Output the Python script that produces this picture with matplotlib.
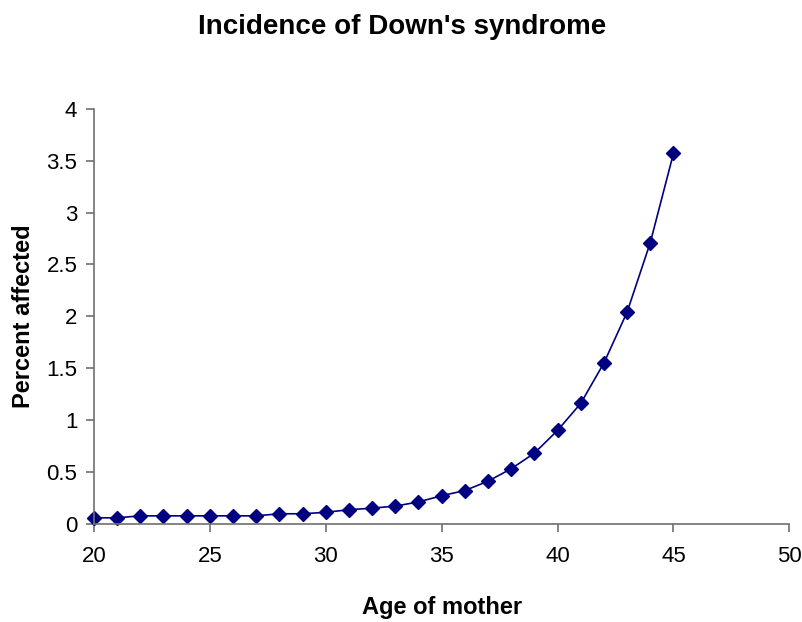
import matplotlib
matplotlib.use('Agg')
import matplotlib.pyplot as plt

# Data
ages = list(range(20, 46))
percent_affected = [0.057, 0.057, 0.076, 0.076, 0.076, 0.076, 0.076, 0.076,
                    0.096, 0.096, 0.11, 0.135, 0.15, 0.17, 0.21, 0.27,
                    0.32, 0.41, 0.53, 0.68, 0.90, 1.16, 1.55, 2.04, 2.71, 3.57]
x_ticks = [20, 25, 30, 35, 40, 45, 50]
y_ticks = [0, 0.5, 1, 1.5, 2, 2.5, 3, 3.5, 4]
y_tick_labels = ['0', '0.5', '1', '1.5', '2', '2.5', '3', '3.5', '4']

plt.rcParams['font.family'] = ['Liberation Sans', 'DejaVu Sans']

fig = plt.figure(figsize=(8.03, 6.22), dpi=100)
ax = fig.add_axes([0.117, 0.158, 0.866, 0.667])

ax.plot(ages, percent_affected, color='#000080', linewidth=1.2,
        marker='D', markersize=7.5, markerfacecolor='#000080',
        markeredgecolor='#000080', clip_on=False)

ax.set_xlim(20, 50)
ax.set_ylim(0, 4)
ax.set_xticks(x_ticks)
ax.set_yticks(y_ticks)
ax.set_yticklabels(y_tick_labels)

for side in ['top', 'right']:
    ax.spines[side].set_visible(False)
for side in ['left', 'bottom']:
    ax.spines[side].set_color('#707070')
    ax.spines[side].set_linewidth(1.2)

ax.tick_params(axis='both', direction='out', length=6, width=1.2,
               color='#707070', labelsize=16, labelcolor='black')
ax.tick_params(axis='x', pad=10)
ax.tick_params(axis='y', pad=6)

ax.set_xlabel('Age of mother', fontsize=17, fontweight='bold', labelpad=21)
ax.set_ylabel('Percent affected', fontsize=17, fontweight='bold', labelpad=8)
fig.text(0.501, 1 - 27 / 622, "Incidence of Down's syndrome", fontsize=20,
         fontweight='bold', ha='center', va='center')

fig.savefig('out.png', dpi=100)
